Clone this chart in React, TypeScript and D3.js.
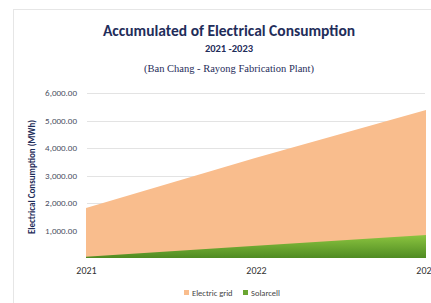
import React, { useRef, useEffect } from "react";
import * as d3 from "d3";

const years = ["2021", "2022", "2023"];
const electricGrid = [1820, 3650, 5380];
const solarcell = [50, 450, 840];
const yTicks = [1000, 2000, 3000, 4000, 5000, 6000];

const App = () => {
  const ref = useRef<SVGSVGElement>(null);

  useEffect(() => {
    const width = 431;
    const height = 303;
    const svg = d3.select(ref.current);
    svg.selectAll("*").remove();

    const x = d3.scalePoint().domain(years).range([86, 426]);
    const y = d3.scaleLinear().domain([0, 6000]).range([258, 93]);

    const defs = svg.append("defs");
    const grad = defs.append("linearGradient").attr("id", "greenGrad")
      .attr("x1", 0).attr("y1", 0).attr("x2", 0).attr("y2", 1);
    grad.append("stop").attr("offset", "0%").attr("stop-color", "#8cc540");
    grad.append("stop").attr("offset", "100%").attr("stop-color", "#4f8b22");

    // frame
    svg.append("rect").attr("x", 13.5).attr("y", 9.5).attr("width", width).attr("height", height)
      .attr("fill", "#fff").attr("stroke", "#e6e6e6");

    // titles
    svg.append("text").attr("x", 229).attr("y", 36).attr("text-anchor", "middle")
      .attr("font-family", "Carlito, 'Open Sans', sans-serif").attr("font-weight", "bold")
      .attr("font-size", 15.5).attr("fill", "#1f2d5a").text("Accumulated of Electrical Consumption");
    svg.append("text").attr("x", 229).attr("y", 52).attr("text-anchor", "middle")
      .attr("font-family", "Carlito, 'Open Sans', sans-serif").attr("font-weight", "bold")
      .attr("font-size", 10.5).attr("fill", "#1f2d5a").text("2021 -2023");
    svg.append("text").attr("x", 229).attr("y", 72).attr("text-anchor", "middle")
      .attr("font-family", "'Liberation Serif', serif")
      .attr("font-size", 10.5).attr("fill", "#1f2d5a").text("(Ban Chang - Rayong Fabrication Plant)");

    // gridlines
    svg.append("g").selectAll("line").data(yTicks).join("line")
      .attr("x1", 87).attr("x2", 425)
      .attr("y1", (d) => Math.round(y(d)) + 0.5).attr("y2", (d) => Math.round(y(d)) + 0.5)
      .attr("stroke", "#e3e3e3");

    const yAxis = svg.append("g").attr("transform", `translate(80,0)`)
      .call(d3.axisLeft(y).tickValues(yTicks).tickSize(0).tickFormat((d) => d3.format(",.2f")(d as number)));
    yAxis.select(".domain").remove();
    yAxis.selectAll("text").attr("font-family", "Carlito, 'Open Sans', sans-serif")
      .attr("font-size", 9).attr("fill", "#4a4f63");

    svg.append("text").attr("transform", `translate(35,177) rotate(-90)`).attr("text-anchor", "middle")
      .attr("font-family", "Carlito, 'Open Sans', sans-serif").attr("font-weight", "bold")
      .attr("font-size", 9).attr("fill", "#1f2d5a").text("Electrical Consumption (MWh)");

    const area = d3.area<number>()
      .x((_, i) => x(years[i]) as number)
      .y0(y(0))
      .y1((d) => y(d));

    svg.append("path").datum(electricGrid).attr("d", area).attr("fill", "#f9bd8d");
    svg.append("path").datum(solarcell).attr("d", area).attr("fill", "url(#greenGrad)");

    const xAxis = svg.append("g").attr("transform", `translate(0,271)`)
      .call(d3.axisBottom(x).tickSize(0));
    xAxis.select(".domain").remove();
    xAxis.selectAll("text").attr("font-family", "Carlito, 'Open Sans', sans-serif")
      .attr("font-size", 10).attr("fill", "#333").attr("dy", 0);

    // legend
    const legend = [
      { name: "Electric grid", color: "#f9bd8d", x: 184 },
      { name: "Solarcell", color: "#6aa632", x: 243 },
    ];
    const lg = svg.append("g").selectAll("g").data(legend).join("g")
      .attr("transform", (d) => `translate(${d.x},291)`);
    lg.append("rect").attr("width", 5).attr("height", 5).attr("y", -1).attr("fill", (d) => d.color);
    lg.append("text").attr("x", 8).attr("y", 4.5).attr("font-family", "Carlito, 'Open Sans', sans-serif")
      .attr("font-size", 8.5).attr("fill", "#444").text((d) => d.name);
  }, []);

  return (
    <svg ref={ref} width={431} height={303}
      style={{ position: "absolute", left: 0, top: 0, background: "#fff" }} />
  );
};

export default App;
